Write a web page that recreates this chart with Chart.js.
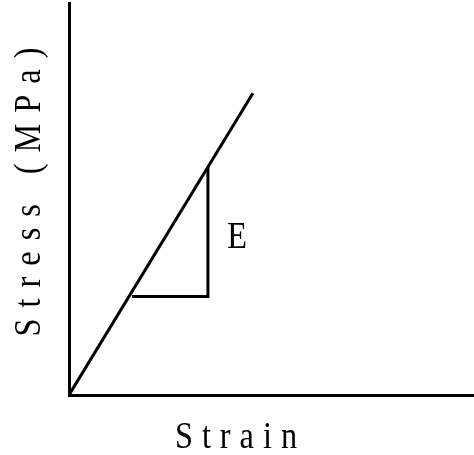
<!DOCTYPE html>
<html>
<head>
<meta charset="utf-8">
<script src="https://cdn.jsdelivr.net/npm/chart.js@4/dist/chart.umd.min.js"></script>
<style>
  html, body { margin: 0; padding: 0; background: #fff; }
  #wrap { width: 474px; height: 455px; position: relative; }
</style>
</head>
<body>
<div id="wrap"><canvas id="c"></canvas></div>
<script>
// Axis titles and annotation
const xTitle = 'Strain';
const yTitle = 'Stress (MPa)';
const slopeLabel = 'E';
const slopeLabelPos = [41.5, 40.8];   // [strain, stress] where the label sits

// Stress-strain line (arbitrary units, axes 0..100)
const strain = [0, 45.4];
const stress = [0, 77.0];

// Slope triangle
const triStrain = [15.6, 34.3, 34.3];
const triStress = [25.1, 25.1, 58.2];

const toPts = (xs, ys) => xs.map((x, i) => ({ x: x, y: ys[i] }));

const FONT = '38px "Liberation Serif", "Times New Roman", serif';
const SX = 0.85;

function spacedText(ctx, text, cx, baseY, spacing) {
  // draws text horizontally compressed by SX, centred on cx, with given on-screen letter spacing
  ctx.save();
  ctx.translate(cx, baseY);
  ctx.scale(SX, 1);
  ctx.font = FONT;
  const ls = spacing / SX;
  ctx.letterSpacing = ls + 'px';
  ctx.textAlign = 'left';
  ctx.textBaseline = 'alphabetic';
  const w = ctx.measureText(text).width - ls;
  ctx.fillText(text, -w / 2, 0);
  ctx.restore();
}

const textPlugin = {
  id: 'texts',
  afterDraw(chart) {
    const ctx = chart.ctx;
    const xs = chart.scales.x, ys = chart.scales.y;
    ctx.save();
    ctx.fillStyle = '#000';
    // x title
    spacedText(ctx, xTitle, 236, 448, 9);
    // y title
    ctx.save();
    ctx.translate(40, 192);
    ctx.rotate(-Math.PI / 2);
    spacedText(ctx, yTitle, 0, 0, 11);
    ctx.restore();
    // E label
    const ex = xs.getPixelForValue(slopeLabelPos[0]);
    const ey = ys.getPixelForValue(slopeLabelPos[1]);
    spacedText(ctx, slopeLabel, ex, ey + 12.5, 0);
    ctx.restore();
  }
};

new Chart(document.getElementById('c'), {
  type: 'scatter',
  data: {
    datasets: [
      {
        data: toPts(strain, stress),
        showLine: true,
        borderColor: '#000',
        borderWidth: 3,
        pointRadius: 0,
        fill: false
      },
      {
        data: toPts(triStrain, triStress),
        showLine: true,
        borderColor: '#000',
        borderWidth: 3,
        pointRadius: 0,
        fill: false
      }
    ]
  },
  options: {
    responsive: true,
    maintainAspectRatio: false,
    animation: false,
    events: [],
    layout: { padding: { left: 69, right: 0, top: 3, bottom: 60 } },
    plugins: { legend: { display: false }, tooltip: { enabled: false } },
    scales: {
      x: {
        type: 'linear', min: 0, max: 100,
        ticks: { display: false },
        grid: { display: false, drawTicks: false },
        border: { display: true, width: 3, color: '#000' }
      },
      y: {
        type: 'linear', min: 0, max: 100,
        ticks: { display: false },
        grid: { display: false, drawTicks: false },
        border: { display: true, width: 3, color: '#000' }
      }
    }
  },
  plugins: [textPlugin]
});
</script>
</body>
</html>
